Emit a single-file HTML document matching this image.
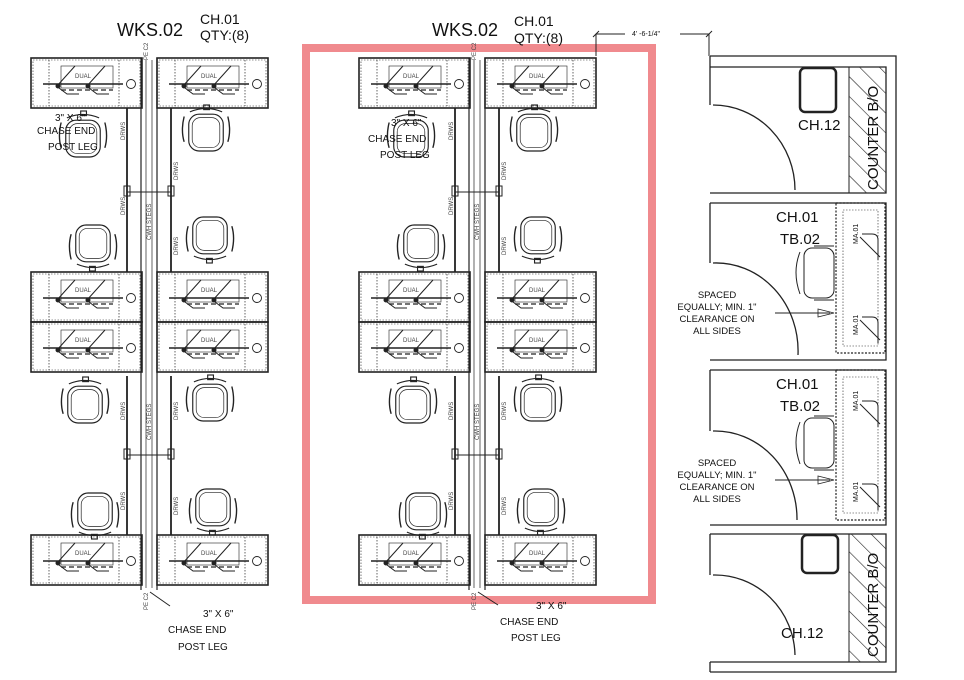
<!DOCTYPE html>
<html><head><meta charset="utf-8"><style>
html,body{margin:0;padding:0;background:#fff;}
svg{display:block;font-family:"Liberation Sans",sans-serif;}
</style></head><body>
<svg width="964" height="680" viewBox="0 0 964 680" xmlns="http://www.w3.org/2000/svg">
<defs>
<g id="desk" fill="none" stroke="#222">
<rect x="0" y="0" width="111" height="50" stroke-width="1.6"/>
<rect x="2" y="2" width="107" height="46" stroke-width="0.6" stroke-dasharray="1.5 1.5"/>
<line x1="18" y1="2" x2="18" y2="48" stroke-width="0.7" stroke-dasharray="1.5 1.5"/>
<line x1="88" y1="2" x2="88" y2="48" stroke-width="0.7" stroke-dasharray="1.5 1.5"/>
<line x1="12" y1="26" x2="92" y2="26" stroke-width="1.4"/>
<line x1="30" y1="32" x2="82" y2="32" stroke-width="1.2" stroke-dasharray="5 3"/>
<rect x="30" y="8" width="52" height="22" stroke-width="0.6"/>
<path d="M26 28 L44 8 M56 28 L74 8 M28 30 L36 36 L48 36 M58 30 L66 36 L78 36" stroke-width="1"/>
<circle cx="27" cy="28" r="2" fill="#222"/><circle cx="57" cy="28" r="2" fill="#222"/>
<circle cx="100" cy="26" r="4.5" stroke-width="0.9"/>
<text x="44" y="20" font-size="6" fill="#444" stroke="none">DUAL</text>
</g>
<g id="chair0" fill="none" stroke="#222" stroke-width="1">
<rect x="8" y="6" width="30" height="32" rx="9"/>
<rect x="11" y="9" width="24" height="26" rx="7" stroke-width="0.6"/>
<path d="M4 14 q-3 10 0 22 M42 14 q3 10 0 22" stroke-width="1.2"/>
<path d="M9 40 q14 6 28 0" />
<rect x="20" y="42" width="5" height="4"/>
</g>
<g id="chair"><use href="#chair0" transform="scale(1.15) translate(-23,-26)"/></g>
<g id="chairR"><use href="#chair0" transform="rotate(180) scale(1.15) translate(-23,-26)"/></g>
<pattern id="hatch" width="14" height="14" patternUnits="userSpaceOnUse" patternTransform="rotate(-45)">
<line x1="0" y1="0" x2="0" y2="14" stroke="#222" stroke-width="1.2"/>
</pattern>
</defs>

<rect x="306" y="48" width="346" height="552" fill="none" stroke="#f08a8e" stroke-width="8"/>

<g id="cluster">
<g stroke="#222" fill="none">
<line x1="141" y1="58" x2="141" y2="590" stroke-width="1.2"/>
<line x1="157" y1="58" x2="157" y2="590" stroke-width="1.2"/>
<line x1="146" y1="60" x2="146" y2="588" stroke-width="0.7"/>
<line x1="152" y1="60" x2="152" y2="588" stroke-width="0.7"/>
<line x1="127" y1="108" x2="127" y2="272" stroke-width="1.8"/>
<line x1="171" y1="108" x2="171" y2="272" stroke-width="1.8"/>
<line x1="127" y1="376" x2="127" y2="535" stroke-width="1.8"/>
<line x1="171" y1="376" x2="171" y2="535" stroke-width="1.8"/>
<line x1="127" y1="192" x2="171" y2="192" stroke-width="1"/>
<line x1="127" y1="455" x2="171" y2="455" stroke-width="1"/>
<rect x="124" y="186" width="6" height="10"/><rect x="168" y="186" width="6" height="10"/>
<rect x="124" y="449" width="6" height="10"/><rect x="168" y="449" width="6" height="10"/>
</g>
<g font-size="6" fill="#444">
<text transform="translate(125,140) rotate(-90)">DRWS</text>
<text transform="translate(125,215) rotate(-90)">DRWS</text>
<text transform="translate(178,180) rotate(-90)">DRWS</text>
<text transform="translate(178,255) rotate(-90)">DRWS</text>
<text transform="translate(125,420) rotate(-90)">DRWS</text>
<text transform="translate(125,510) rotate(-90)">DRWS</text>
<text transform="translate(178,420) rotate(-90)">DRWS</text>
<text transform="translate(178,515) rotate(-90)">DRWS</text>
<text transform="translate(151,240) rotate(-90)">CWH STEGS</text>
<text transform="translate(151,440) rotate(-90)">CWH STEGS</text>
<text transform="translate(148,60) rotate(-90)">PE C2</text>
<text transform="translate(148,610) rotate(-90)">PE C2</text>
</g>
<use href="#desk" x="31" y="58"/><use href="#desk" x="157" y="58"/>
<use href="#desk" x="31" y="272"/><use href="#desk" x="157" y="272"/>
<use href="#desk" x="31" y="322"/><use href="#desk" x="157" y="322"/>
<use href="#desk" x="31" y="535"/><use href="#desk" x="157" y="535"/>
<use href="#chairR" x="83" y="134"/>
<use href="#chairR" x="206" y="128"/>
<use href="#chair" x="93" y="248"/>
<use href="#chair" x="210" y="240"/>
<use href="#chairR" x="85" y="400"/>
<use href="#chairR" x="210" y="398"/>
<use href="#chair" x="95" y="516"/>
<use href="#chair" x="213" y="512"/>
</g>
<use href="#cluster" x="328" y="0"/>

<g fill="#111">
<text x="117" y="36" font-size="18">WKS.02</text>
<text x="200" y="24" font-size="14">CH.01</text>
<text x="200" y="40" font-size="14">QTY:(8)</text>
<text x="432" y="36" font-size="18">WKS.02</text>
<text x="514" y="26" font-size="14">CH.01</text>
<text x="514" y="43" font-size="14">QTY:(8)</text>
<g font-size="10">
<text x="55" y="121">3" X 6"</text>
<text x="37" y="134">CHASE END</text>
<text x="48" y="150">POST LEG</text>
<text x="391" y="126">3" X 6"</text>
<text x="368" y="142">CHASE END</text>
<text x="380" y="158">POST LEG</text>
<text x="203" y="617">3" X 6"</text>
<text x="168" y="633">CHASE END</text>
<text x="178" y="650">POST LEG</text>
<text x="536" y="609">3" X 6"</text>
<text x="500" y="625">CHASE END</text>
<text x="511" y="641">POST LEG</text>
</g>
<text x="632" y="36" font-size="7">4' -6-1/4"</text>
</g>
<g stroke="#222" fill="none" stroke-width="1">
<line x1="150" y1="592" x2="170" y2="606"/>
<line x1="478" y1="592" x2="498" y2="605"/>
<path d="M596 56 V34 H625 M680 34 H709 V56"/>
<line x1="593" y1="37" x2="599" y2="31"/><line x1="706" y1="37" x2="712" y2="31"/>
</g>

<g stroke="#222" fill="none" stroke-width="1.3">
<path d="M710 56 H896 V672 H710"/>
<path d="M710 67 H886 V193 H710"/>
<path d="M710 203 H886 V360 H710"/>
<path d="M710 370 H886 V525 H710"/>
<path d="M710 534 H886 V662 H710"/>
<line x1="710" y1="56" x2="710" y2="67"/>
<line x1="710" y1="67" x2="710" y2="105"/>
<line x1="710" y1="203" x2="710" y2="263"/>
<line x1="710" y1="370" x2="710" y2="431"/>
<line x1="710" y1="534" x2="710" y2="575"/>
<line x1="710" y1="662" x2="710" y2="672"/>
<path d="M713 105 A82 85 0 0 1 795 190"/>
<path d="M713 263 A82 88 0 0 1 798 355"/>
<path d="M713 431 A82 88 0 0 1 797 520"/>
<path d="M713 575 A80 82 0 0 1 795 655"/>
</g>
<rect x="849" y="67" width="37" height="126" fill="url(#hatch)" stroke="#222"/>
<rect x="849" y="534" width="37" height="128" fill="url(#hatch)" stroke="#222"/>
<g stroke="#222" fill="none">
<rect x="836" y="203" width="49" height="150" stroke-width="1.2" stroke-dasharray="2 1.5"/>
<rect x="843" y="210" width="35" height="136" stroke-width="0.6" stroke-dasharray="1.5 1.5"/>
<rect x="836" y="370" width="49" height="150" stroke-width="1.2" stroke-dasharray="2 1.5"/>
<rect x="843" y="377" width="35" height="136" stroke-width="0.6" stroke-dasharray="1.5 1.5"/>
<path d="M860 237 L880 257 M862 234 h10 q6 0 6 6 v20 M860 320 L880 340 M862 317 h10 q6 0 6 6 v20"/>
<path d="M860 404 L880 424 M862 401 h10 q6 0 6 6 v20 M860 487 L880 507 M862 484 h10 q6 0 6 6 v20"/>
<rect x="800" y="68" width="36" height="44" rx="5" stroke-width="2.5"/>
<rect x="802" y="535" width="36" height="38" rx="5" stroke-width="2.5"/>
<g stroke-width="1">
<rect x="804" y="248" width="30" height="50" rx="8"/><path d="M800 252 q-8 20 0 42 M814 246 h20 M814 300 h20"/>
<rect x="804" y="418" width="30" height="50" rx="8"/><path d="M800 422 q-8 20 0 42 M814 416 h20 M814 470 h20"/>
</g>
<path d="M775 313 H830 M775 480 H830" stroke-width="1"/>
<path d="M818 309 L834 313 L818 317 Z M818 476 L834 480 L818 484 Z" stroke-width="0.8"/>
</g>
<g fill="#111">
<text x="798" y="130" font-size="15">CH.12</text>
<text x="781" y="638" font-size="15">CH.12</text>
<text x="776" y="222" font-size="15">CH.01</text>
<text x="780" y="244" font-size="15">TB.02</text>
<text x="776" y="389" font-size="15">CH.01</text>
<text x="780" y="411" font-size="15">TB.02</text>
<g font-size="9.5" text-anchor="middle">
<text x="717" y="298">SPACED</text><text x="717" y="310">EQUALLY; MIN. 1"</text>
<text x="717" y="322">CLEARANCE ON</text><text x="717" y="334">ALL SIDES</text>
<text x="717" y="466">SPACED</text><text x="717" y="478">EQUALLY; MIN. 1"</text>
<text x="717" y="490">CLEARANCE ON</text><text x="717" y="502">ALL SIDES</text>
</g>
<text transform="translate(878,190) rotate(-90)" font-size="15">COUNTER B/O</text>
<text transform="translate(878,657) rotate(-90)" font-size="15">COUNTER B/O</text>
<g font-size="7">
<text transform="translate(858,244) rotate(-90)">MA.01</text>
<text transform="translate(858,335) rotate(-90)">MA.01</text>
<text transform="translate(858,411) rotate(-90)">MA.01</text>
<text transform="translate(858,502) rotate(-90)">MA.01</text>
</g>
</g>
</svg>
</body></html>
